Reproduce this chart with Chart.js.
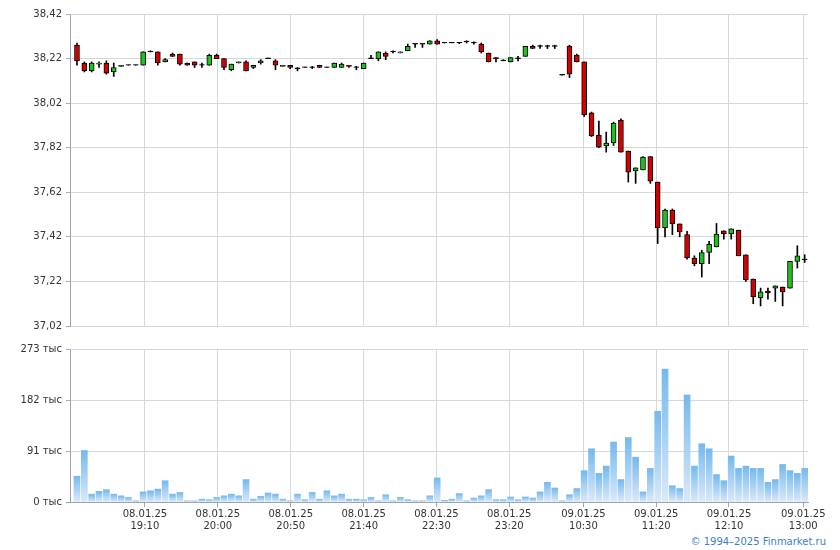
<!DOCTYPE html>
<html>
<head>
<meta charset="utf-8">
<script src="https://cdn.jsdelivr.net/npm/chart.js@4/dist/chart.umd.min.js"></script>
<style>
  body { margin: 0; background: #fff; width: 840px; height: 550px; position: relative; overflow: hidden; }
  #price-wrap { position: absolute; left: 0; top: 0; width: 840px; height: 336px; }
  #volume-wrap { position: absolute; left: 0; top: 336px; width: 840px; height: 197px; }
  #copy { position: absolute; right: 14px; top: 536px; font: 10px "DejaVu Sans", sans-serif; color: #3a7fc4; }
</style>
</head>
<body>
<div id="price-wrap"><canvas id="price-chart"></canvas></div>
<div id="volume-wrap"><canvas id="volume-chart"></canvas></div>
<div id="copy">© 1994–2025 Finmarket.ru</div>
<script>
const opens = [38.28,38.20,38.165,38.195,38.20,38.16,38.185,38.19,38.19,38.19,
  38.25,38.25,38.205,38.24,38.24,38.20,38.205,38.19,38.19,38.235,
  38.22,38.17,38.20,38.205,38.18,38.20,38.22,38.21,38.185,38.19,
  38.175,38.18,38.18,38.19,38.18,38.18,38.18,38.19,38.18,38.175,
  38.22,38.22,38.245,38.25,38.245,38.255,38.285,38.285,38.285,38.30,
  38.29,38.29,38.29,38.295,38.29,38.285,38.245,38.225,38.21,38.205,
  38.22,38.23,38.275,38.275,38.275,38.275,38.146,38.276,38.236,38.205,
  37.976,37.877,37.828,37.841,37.944,37.805,37.716,37.72,37.78,37.666,
  37.46,37.54,37.478,37.43,37.325,37.30,37.35,37.375,37.447,37.433,
  37.45,37.339,37.231,37.146,37.177,37.19,37.195,37.19,37.31,37.317];
const closes = [38.21,38.165,38.20,38.20,38.155,38.18,38.19,38.19,38.19,38.25,
  38.25,38.20,38.215,38.23,38.195,38.19,38.19,38.19,38.235,38.22,
  38.18,38.195,38.205,38.165,38.19,38.21,38.22,38.19,38.19,38.18,
  38.175,38.18,38.18,38.18,38.18,38.20,38.195,38.185,38.18,38.20,
  38.22,38.25,38.23,38.25,38.25,38.275,38.285,38.285,38.30,38.285,
  38.29,38.29,38.29,38.295,38.29,38.25,38.205,38.22,38.21,38.225,
  38.22,38.275,38.265,38.275,38.275,38.275,38.146,38.15,38.205,37.967,
  37.873,37.823,37.841,37.93,37.80,37.71,37.73,37.778,37.67,37.46,
  37.54,37.478,37.442,37.325,37.30,37.35,37.386,37.433,37.433,37.456,
  37.335,37.227,37.15,37.173,37.168,37.20,37.173,37.31,37.335,37.317];
const highs = [38.29,38.205,38.205,38.205,38.21,38.20,38.19,38.19,38.19,38.25,
  38.255,38.25,38.22,38.245,38.24,38.20,38.205,38.20,38.24,38.24,
  38.22,38.195,38.205,38.21,38.19,38.215,38.22,38.215,38.19,38.19,
  38.18,38.18,38.185,38.19,38.18,38.20,38.20,38.19,38.185,38.20,
  38.235,38.25,38.25,38.255,38.25,38.285,38.285,38.285,38.30,38.305,
  38.29,38.29,38.293,38.30,38.295,38.29,38.245,38.225,38.215,38.225,
  38.23,38.275,38.28,38.28,38.28,38.28,38.146,38.28,38.24,38.205,
  37.98,37.94,37.89,37.935,37.95,37.805,37.73,37.78,37.78,37.666,
  37.545,37.545,37.478,37.445,37.335,37.36,37.40,37.48,37.447,37.456,
  37.45,37.339,37.231,37.19,37.19,37.20,37.195,37.31,37.38,37.34];
const lows = [38.19,38.16,38.16,38.18,38.15,38.14,38.185,38.19,38.19,38.19,
  38.25,38.19,38.205,38.23,38.19,38.19,38.18,38.18,38.19,38.22,
  38.17,38.165,38.20,38.165,38.175,38.195,38.22,38.17,38.185,38.175,
  38.165,38.18,38.175,38.18,38.18,38.18,38.18,38.18,38.17,38.175,
  38.22,38.21,38.215,38.245,38.245,38.255,38.27,38.27,38.285,38.285,
  38.29,38.29,38.287,38.29,38.285,38.245,38.205,38.205,38.21,38.205,
  38.21,38.23,38.265,38.265,38.265,38.265,38.146,38.135,38.205,37.96,
  37.87,37.82,37.80,37.83,37.80,37.666,37.66,37.72,37.66,37.39,
  37.42,37.43,37.42,37.32,37.29,37.24,37.30,37.375,37.41,37.41,
  37.335,37.22,37.12,37.11,37.14,37.13,37.11,37.19,37.28,37.305];
const volumes = [46,92,14,19,22,14,11,8,2,18,
  20,23,38,14,17,2,2,5,4,8,
  11,14,11,40,5,10,16,14,5,2,
  14,4,17,5,20,11,14,5,5,4,
  8,2,13,2,8,4,2,2,11,43,
  3,5,15,2,7,11,22,4,4,9,
  4,9,7,18,35,25,2,13,24,56,
  95,51,64,107,40,115,80,18,60,162,
  237,29,24,191,64,104,95,49,38,82,
  60,64,60,60,35,40,67,56,51,60];
const priceTicks = [37.02, 37.22, 37.42, 37.62, 37.82, 38.02, 38.22, 38.42];
const volumeTicks = [0, 91, 182, 273];
const tickPositions = [9.24, 19.16, 29.08, 39.0, 48.9, 58.8, 68.9, 78.8, 88.7, 98.8];
const tickDates = ['08.01.25', '08.01.25', '08.01.25', '08.01.25', '08.01.25', '08.01.25',
  '09.01.25', '09.01.25', '09.01.25', '09.01.25'];
const tickTimes = ['19:10', '20:00', '20:50', '21:40', '22:30', '23:20', '10:30', '11:20', '12:10', '13:00'];

const FONT = { family: '"DejaVu Sans", sans-serif', size: 10 };
const GRID = '#d3d9dd';
const AXIS = '#a0a4ac';

function xAxis(showLabels) {
  return {
    type: 'linear',
    min: -0.95,
    max: 99.45,
    offset: false,
    afterBuildTicks: (scale) => {
      scale.ticks = tickPositions.map((v) => ({ value: v }));
    },
    ticks: {
      display: showLabels,
      autoSkip: false,
      maxRotation: 0,
      color: '#333',
      font: FONT,
      padding: 1,
      callback: (v) => {
        const k = tickPositions.indexOf(v);
        return k < 0 ? '' : [tickDates[k], tickTimes[k]];
      },
    },
    grid: { offset: false, color: GRID, drawTicks: showLabels, tickLength: 5, tickColor: AXIS },
    border: { color: showLabels ? AXIS : GRID },
  };
}

function yAxis(min, max, ticks, fmt) {
  return {
    min: min,
    max: max,
    afterBuildTicks: (scale) => {
      scale.ticks = ticks.map((v) => ({ value: v }));
    },
    afterFit: (scale) => { scale.width = 70; },
    ticks: { color: '#333', font: FONT, padding: 4, callback: fmt },
    grid: { color: GRID, tickLength: 4, tickColor: '#9ad' },
    border: { color: AXIS },
  };
}

function renderPriceChart(ctx) {
  const idx = opens.map((_, i) => i);
  const bodyColors = idx.map((i) => (closes[i] > opens[i] ? '#1fc01f' : closes[i] < opens[i] ? '#d40000' : '#000'));
  return new Chart(ctx, {
    type: 'bar',
    data: {
      datasets: [
        {
          label: 'wick',
          data: idx.map((i) => ({ x: i, y: [lows[i], Math.max(highs[i], lows[i] + 0.002)] })),
          backgroundColor: '#000',
          barThickness: 1,
          order: 2,
        },
        {
          label: 'body',
          data: idx.map((i) => {
            const lo = Math.min(opens[i], closes[i]);
            const hi = Math.max(opens[i], closes[i]);
            return { x: i, y: [lo, Math.max(hi, lo + 0.003)] };
          }),
          backgroundColor: bodyColors,
          borderColor: '#000',
          borderWidth: 1,
          borderSkipped: false,
          barThickness: 5,
          order: 1,
        },
      ],
    },
    options: {
      responsive: true,
      maintainAspectRatio: false,
      animation: false,
      layout: { padding: { top: 14, right: 32, bottom: 0, left: 0 } },
      datasets: { bar: { grouped: false } },
      scales: {
        x: xAxis(false),
        y: yAxis(37.02, 38.42, priceTicks, (v) => v.toFixed(2).replace('.', ',')),
      },
      plugins: { legend: { display: false }, tooltip: { enabled: false } },
    },
  });
}

function renderVolumeChart(ctx) {
  return new Chart(ctx, {
    type: 'bar',
    data: {
      datasets: [
        {
          label: 'volume',
          data: volumes.map((v, i) => ({ x: i, y: v })),
          barThickness: 6,
          backgroundColor: (c) => {
            const area = c.chart.chartArea;
            if (!area || !c.raw) return '#9cc9f0';
            const top = c.chart.scales.y.getPixelForValue(c.raw.y);
            const g = c.chart.ctx.createLinearGradient(0, top, 0, area.bottom);
            g.addColorStop(0, '#74b9ef');
            g.addColorStop(1, '#dbe9f8');
            return g;
          },
        },
      ],
    },
    options: {
      responsive: true,
      maintainAspectRatio: false,
      animation: false,
      layout: { padding: { top: 13, right: 32, bottom: 0, left: 0 } },
      scales: {
        x: xAxis(true),
        y: yAxis(0, 273, volumeTicks, (v) => v + ' тыс'),
      },
      plugins: { legend: { display: false }, tooltip: { enabled: false } },
    },
  });
}

renderPriceChart(document.getElementById('price-chart'));
renderVolumeChart(document.getElementById('volume-chart'));
</script>
</body>
</html>
